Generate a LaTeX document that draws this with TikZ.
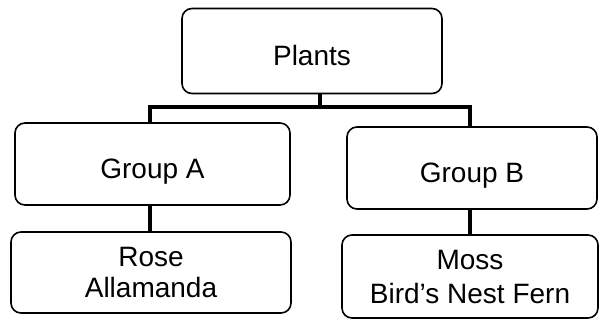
\documentclass[tikz,border=0pt]{standalone}
\usepackage{fontspec}
\setmainfont{Liberation Sans}
\begin{document}
\begin{tikzpicture}[x=1pt,y=-1pt,
  box/.style={draw, line width=1.6pt, rounded corners=10pt, inner sep=0pt,
    align=center, font=\fontsize{28}{32}\selectfont},
  single/.style={text height=28pt, text depth=0pt},
  conn/.style={line width=4pt}]
\useasboundingbox (0,0) rectangle (600,322);
\node[box, single, minimum width=260pt, minimum height=85pt] (plants) at (312,51) {Plants};
\node[box, single, minimum width=275pt, minimum height=82pt] (ga) at (152.5,164) {Group A};
\node[box, single, minimum width=250pt, minimum height=82pt] (gb) at (472,168) {Group B};
\node[box, minimum width=280pt, minimum height=81pt, font=\fontsize{28}{31}\selectfont] (rose) at (151,272.5) {Rose\\Allamanda};
\node[box, minimum width=256pt, minimum height=83pt, font=\fontsize{28}{34}\selectfont] (moss) at (470,276.5) {\raisebox{-3pt}{Moss}\\\raisebox{-3pt}{Bird's Nest Fern}};
\coordinate (bar) at (320,107);
\draw[conn] ([xshift=8pt]plants.south) -- ([xshift=8pt]plants.south |- bar);
\draw[conn] ([xshift=-2.5pt]ga.north) |- (bar) -| ([xshift=-2pt]gb.north);
\draw[conn] ([xshift=-2.5pt]ga.south) -- ([xshift=-2.5pt]ga.south |- rose.north);
\draw[conn] ([xshift=-2pt]gb.south) -- ([xshift=-2pt]gb.south |- moss.north);
\end{tikzpicture}
\end{document}
